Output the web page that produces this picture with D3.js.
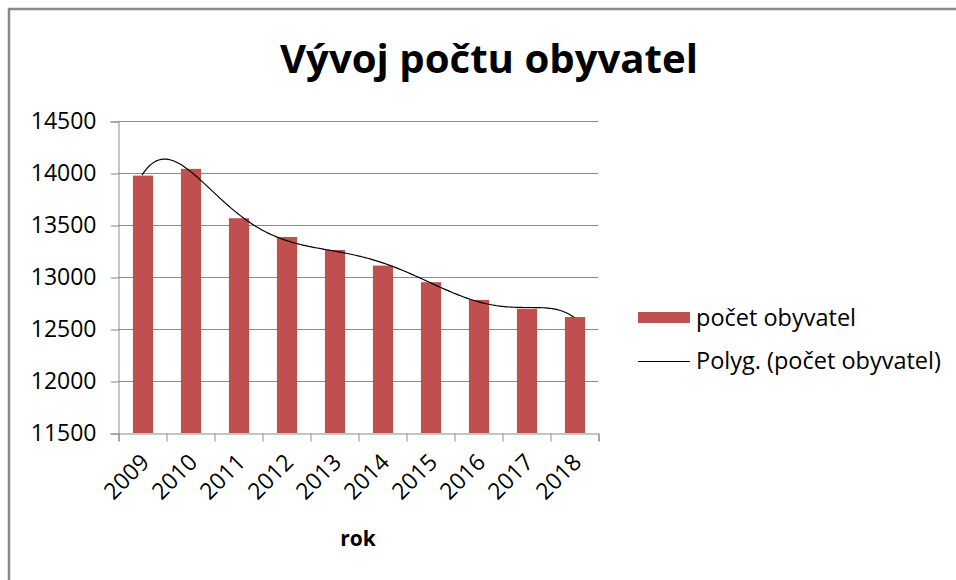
<!DOCTYPE html>
<html>
<head>
<meta charset="utf-8">
<script src="https://cdn.jsdelivr.net/npm/d3@7"></script>
<style>
  html, body { margin: 0; padding: 0; background: #fff; }
  svg { display: block; }
  text { font-family: "Open Sans", "Noto Sans", sans-serif; fill: #000; }
</style>
</head>
<body>
<svg id="chart" width="956" height="580"></svg>
<script>
// ---- data ----
const years = ["2009","2010","2011","2012","2013","2014","2015","2016","2017","2018"];
const population = [13975, 14040, 13565, 13385, 13260, 13110, 12950, 12780, 12695, 12615];
const yTicks = [11500, 12000, 12500, 13000, 13500, 14000, 14500];
const titleText = "Vývoj počtu obyvatel";
const xAxisTitle = "rok";
const seriesName = "počet obyvatel";
const trendName = "Polyg. (počet obyvatel)";
const trendOrder = 6;

// ---- layout ----
const svg = d3.select("#chart");
const plot = { left: 118, right: 598, top: 121, bottom: 433 };
const barColor = "#C0504D";
const gridColor = "#8C8C8C";

// outer chart border
svg.append("rect")
  .attr("x", 9).attr("y", 9).attr("width", 960).attr("height", 600)
  .attr("fill", "#fff").attr("stroke", "#888").attr("stroke-width", 2.5);

const x = d3.scaleBand().domain(years)
  .range([plot.left, plot.right]).paddingInner(0.58).paddingOuter(0.29);
const xEdge = d3.scaleLinear().domain([0, years.length]).range([plot.left, plot.right]);
const y = d3.scaleLinear().domain([11500, 14500]).range([plot.bottom, plot.top]);

// gridlines
svg.append("g").selectAll("line").data(yTicks.filter(t => t > 11500)).join("line")
  .attr("x1", plot.left).attr("x2", plot.right)
  .attr("y1", d => Math.round(y(d)) + 0.5).attr("y2", d => Math.round(y(d)) + 0.5)
  .attr("stroke", gridColor).attr("stroke-width", 1);

// y axis
const yAxis = svg.append("g")
  .attr("transform", `translate(${plot.left + 0.5},0.5)`)
  .call(d3.axisLeft(y).tickValues(yTicks).tickSize(8).tickPadding(14).tickFormat(d3.format("d")));
yAxis.select(".domain").attr("stroke", gridColor);
yAxis.selectAll(".tick line").attr("stroke", gridColor);
yAxis.selectAll(".tick text").attr("font-size", 23).attr("font-family", '"Open Sans", sans-serif').attr("fill", "#000");

// bars
svg.append("g").selectAll("rect").data(years).join("rect")
  .attr("x", d => x(d) + 1)
  .attr("width", x.bandwidth())
  .attr("y", (d, i) => y(population[i]))
  .attr("height", (d, i) => y(11500) - y(population[i]))
  .attr("fill", barColor);

// x axis (tick marks at category boundaries)
const xAxis = svg.append("g")
  .attr("transform", `translate(0.5,${plot.bottom + 0.5})`)
  .call(d3.axisBottom(xEdge).tickValues(d3.range(0, years.length + 1)).tickSize(8).tickFormat(""));
xAxis.select(".domain").attr("stroke", gridColor);
xAxis.selectAll(".tick line").attr("stroke", gridColor);

// rotated category labels
svg.append("g").selectAll("text").data(years).join("text")
  .attr("transform", d => `translate(${x(d) + x.bandwidth() / 2 + 3},${plot.bottom + 25}) rotate(-45)`)
  .attr("text-anchor", "end")
  .attr("dy", "0.35em")
  .attr("font-size", 23)
  .text(d => d);

// polynomial trendline (least squares fit of the series, x = 1..n)
function polyFit(xs, ys, order) {
  const mx = d3.mean(xs), sx = d3.deviation(xs);
  const u = xs.map(v => (v - mx) / sx);
  const n = order + 1;
  const A = Array.from({ length: n }, () => new Array(n + 1).fill(0));
  for (let k = 0; k < u.length; k++) {
    const p = [];
    for (let j = 0; j < n; j++) p.push(Math.pow(u[k], j));
    for (let r = 0; r < n; r++) {
      for (let c = 0; c < n; c++) A[r][c] += p[r] * p[c];
      A[r][n] += p[r] * ys[k];
    }
  }
  for (let col = 0; col < n; col++) {
    let piv = col;
    for (let r = col + 1; r < n; r++) if (Math.abs(A[r][col]) > Math.abs(A[piv][col])) piv = r;
    [A[col], A[piv]] = [A[piv], A[col]];
    for (let r = 0; r < n; r++) {
      if (r === col) continue;
      const f = A[r][col] / A[col][col];
      for (let c = col; c <= n; c++) A[r][c] -= f * A[col][c];
    }
  }
  const coef = A.map((row, i) => row[n] / row[i]);
  return v => {
    const t = (v - mx) / sx;
    let s = 0;
    for (let j = 0; j < n; j++) s += coef[j] * Math.pow(t, j);
    return s;
  };
}
const idx = years.map((d, i) => i + 1);
const fit = polyFit(idx, population, trendOrder);
const trendPts = d3.range(1, years.length + 0.0001, 0.05).map(v => [v, fit(v)]);
const xCat = d3.scaleLinear().domain([1, years.length])
  .range([x(years[0]) + x.bandwidth() / 2, x(years[years.length - 1]) + x.bandwidth() / 2]);
svg.append("path")
  .attr("d", d3.line().x(d => xCat(d[0])).y(d => y(d[1])).curve(d3.curveLinear)(trendPts))
  .attr("fill", "none").attr("stroke", "#000").attr("stroke-width", 1.2);

// title
svg.append("text")
  .attr("x", 489).attr("y", 73)
  .attr("text-anchor", "middle")
  .attr("font-size", 40).attr("font-weight", "bold")
  .attr("textLength", 418).attr("lengthAdjust", "spacingAndGlyphs")
  .text(titleText);

// axis title
svg.append("text")
  .attr("x", (plot.left + plot.right) / 2).attr("y", 546)
  .attr("text-anchor", "middle")
  .attr("font-size", 21).attr("font-weight", "bold")
  .text(xAxisTitle);

// legend
const lg = svg.append("g");
lg.append("rect").attr("x", 638).attr("y", 312).attr("width", 52).attr("height", 11).attr("fill", barColor);
lg.append("text").attr("x", 696).attr("y", 318).attr("dy", "0.35em").attr("font-size", 23.5).text(seriesName);
lg.append("line").attr("x1", 638).attr("x2", 690).attr("y1", 361.5).attr("y2", 361.5)
  .attr("stroke", "#000").attr("stroke-width", 1.2);
lg.append("text").attr("x", 696).attr("y", 361).attr("dy", "0.35em").attr("font-size", 23.5).text(trendName);
</script>
</body>
</html>
